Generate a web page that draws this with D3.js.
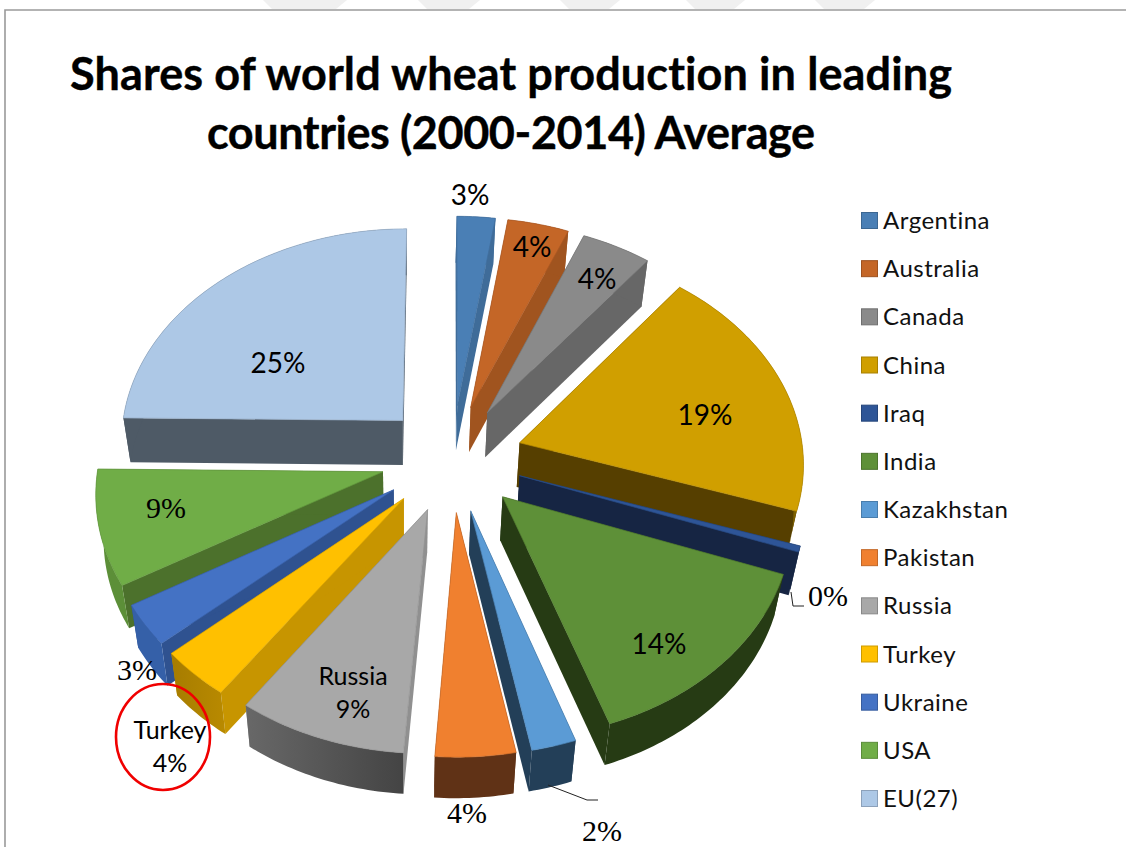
<!DOCTYPE html>
<html><head><meta charset="utf-8">
<script src="https://cdnjs.cloudflare.com/ajax/libs/d3/7.8.5/d3.min.js"></script>
<style>html,body{margin:0;padding:0;background:#fff;overflow:hidden}svg{display:block}text{font-variant-ligatures:none}</style>
</head><body><svg id="c" width="1126" height="847"></svg>
<script>
const categories = ["Argentina","Australia","Canada","China","Iraq","India","Kazakhstan","Pakistan","Russia","Turkey","Ukraine","USA","EU(27)"];
const shares = [2.4,3.85,4.4,19.45,0.45,14.15,2.3,4.1,8.7,3.7,3.1,8.6,24.8];
const topColors = ["#4a7fb5","#c46627","#8a8a8a","#d09f00","#2e5597","#5e9038","#5b9bd5","#f0802f","#a8a8a8","#ffc000","#4472c4","#70ad47","#adc8e6"];
const sideColors = ["#3f6c99","#a0541f","#676767","#563f00","#162543","#263b14","#233f58","#603216","#909090","#c79500","#2f5290","#4c712c","#4e5a66"];
const rimColors = ["#3f6c99","#a0541f","#676767","#7d6000","#162543","#263b14","#233f58","#603216","url(#rimRussia)","url(#rimTurkey)","#3560a8","#5c8f38","#4e5a66"];
const labels = ["3%","4%","4%","19%","0%","14%","2%","4%",["Russia","9%"],["Turkey","4%"],"3%","9%","25%"];
const labelX = [470,532,597,705,828,659,602,467,353,170,137,166,278];
const labelY = [205,257,289,425,606,654,841,823,685,739,680,518,373];
const labelSerif = [0,0,0,0,1,0,1,1,0,0,1,1,0];
const titleLines = ["Shares of world wheat production in leading","countries (2000-2014) Average"];
const titleWidths = [882,608];
const watermark = [[263,347],[418,480],[560,620],[686,745],[815,875]];

const explode = 0.25, persp = 0.085, depth = 44, shrink = 0.025;
const x = d3.scaleLinear().domain([-1,1]).range([452-284,452+284]);
const y = d3.scaleLinear().domain([-1,1]).range([458-214,458+214]);
const project = (X,Y,low) => {
  const s = 1/(1-persp*Y);
  const px = x(X*s), py = y(Y*s);
  return low ? [405+(px-405)*(1-shrink), py+depth-(py-458)*0.01] : [px,py];
};
const svg = d3.select("#c");
const line = d3.line();
const defs = svg.append("defs");
[["rimRussia","#686868","#444444"],["rimTurkey","#a67c00","#b98a00"]].forEach(([id,a,b])=>{
  const g = defs.append("linearGradient").attr("id",id);
  g.append("stop").attr("offset",0).attr("stop-color",a);
  g.append("stop").attr("offset",1).attr("stop-color",b);
});

// background
svg.selectAll(".wm").data(watermark).join("path").attr("fill","#f0f0f0")
  .attr("d",d=>line([[d[0],0],[d[1],0],[d[1]-11,9],[d[0]+9,9]]));
svg.append("path").attr("d",line([[5,847],[5,10],[1126,10]])).attr("fill","none").attr("stroke","#9a9a9a").attr("stroke-width",1.6);

// title
svg.selectAll(".title").data(titleLines).join("text")
  .attr("x",511).attr("y",(d,i)=>90+i*59).attr("text-anchor","middle")
  .attr("font-family","Lato").attr("font-weight",700).attr("font-size",45).attr("fill","#000")
  .attr("textLength",(d,i)=>titleWidths[i]).attr("lengthAdjust","spacing")
  .attr("stroke","#000").attr("stroke-width",0.4).text(d=>d);

// slices
const arcs = d3.pie().sort(null).value(d=>d)(shares);
arcs.forEach(a=>{
  a.mid=(a.startAngle+a.endAngle)/2;
  a.ox=explode*Math.sin(a.mid); a.oy=-explode*Math.cos(a.mid);
});
const order = d3.range(arcs.length).sort((i,j)=>d3.ascending(-Math.cos(arcs[i].mid),-Math.cos(arcs[j].mid)));
const gs = svg.selectAll(".slice").data(order).join("g");
gs.each(function(i){
  const a=arcs[i], g=d3.select(this);
  const n=Math.max(2,Math.ceil((a.endAngle-a.startAngle)*60));
  const angs=d3.range(n+1).map(k=>a.startAngle+(a.endAngle-a.startAngle)*k/n);
  const pt=(t,low)=>project(a.ox+Math.sin(t),a.oy-Math.cos(t),low);
  const apex=l=>project(a.ox,a.oy,l);
  [a.startAngle,a.endAngle].forEach(t=>{
    g.append("path").attr("d",line([apex(false),pt(t,false),pt(t,true),apex(true)])+"Z").attr("fill",sideColors[i]);
  });
  g.append("path").attr("d",line(angs.map(t=>pt(t,false)).concat(angs.slice().reverse().map(t=>pt(t,true))))+"Z").attr("fill",rimColors[i]);
  g.append("path").attr("d",line([apex(false)].concat(angs.map(t=>pt(t,false))))+"Z")
    .attr("fill",topColors[i]).attr("stroke",d3.color(topColors[i]).darker(0.4)).attr("stroke-width",0.7);
});

// leader lines
const leaders=[[[791,592],[793,606],[804,606]],[[548,785],[587,800],[598,800]]];
svg.selectAll(".leader").data(leaders).join("path").attr("d",d=>line(d)).attr("fill","none").attr("stroke","#222").attr("stroke-width",1);

// data labels
labels.forEach((l,i)=>{
  const t=svg.append("text").attr("text-anchor","middle").attr("fill","#000")
    .attr("font-family",labelSerif[i]?"Liberation Serif":"Lato")
    .attr("font-size",labelSerif[i]?30:(Array.isArray(l)?25:28));
  [].concat(l).forEach((s,k)=>t.append("tspan").attr("x",labelX[i]).attr("y",labelY[i]+k*33).text(s));
});

// callout
svg.append("ellipse").attr("cx",163).attr("cy",737).attr("rx",47).attr("ry",53)
  .attr("fill","none").attr("stroke","#f00000").attr("stroke-width",2.6);

// legend
const ly=d3.scalePoint().domain(categories).range([220.5,798.5]);
const leg=svg.selectAll(".leg").data(categories).join("g").attr("transform",d=>`translate(861,${ly(d)})`);
leg.append("rect").attr("x",0.5).attr("y",-8).attr("width",16).attr("height",16)
  .attr("fill",(d,i)=>topColors[i]).attr("stroke",(d,i)=>d3.color(topColors[i]).darker(0.6)).attr("stroke-width",1);
leg.append("text").attr("x",22).attr("y",8.5).attr("font-family","Lato").attr("font-size",24)
  .attr("letter-spacing",0.5).attr("fill","#111").text(d=>d);
</script></body></html>
